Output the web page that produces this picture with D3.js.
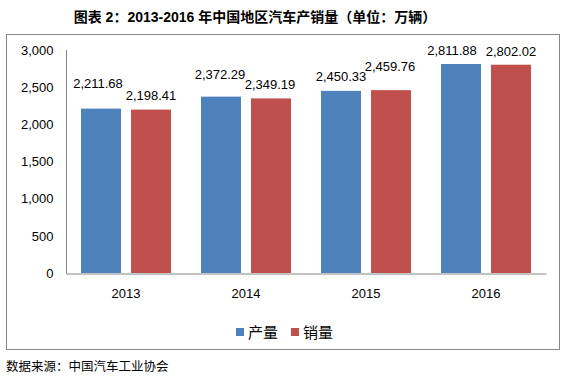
<!DOCTYPE html>
<html><head><meta charset="utf-8">
<script src="https://cdn.jsdelivr.net/npm/d3@7/dist/d3.min.js"></script>
<style>body{margin:0;background:#fff;}svg{display:block;}</style>
</head><body>
<svg id="c" width="569" height="380"></svg>
<script>
const categories = ["2013", "2014", "2015", "2016"];
const seriesNames = ["产量", "销量"];
const production = [2211.68, 2372.29, 2450.33, 2811.88];
const sales = [2198.41, 2349.19, 2459.76, 2802.02];
const yTicks = [0, 500, 1000, 1500, 2000, 2500, 3000];
const colors = ["#4F81BD", "#C0504D"];
// manual label nudges (dx, dy) per series per category, as in the source chart
const labelNudge = [
  [[-3, -21], [-1, -18], [0, -10], [-9, -9]],
  [[0, -10], [-1, -9], [-1, -19], [0, -9]]
];

const svg = d3.select("#c");
const latin = "'Liberation Sans', Arial, sans-serif";
const cjk = "'Liberation Sans', 'Noto Sans CJK SC', sans-serif";

svg.append("text").attr("x", 255).attr("y", 22).attr("text-anchor", "middle")
  .attr("font-family", cjk).attr("font-weight", "bold").attr("font-size", 14).attr("fill", "#000")
  .text("图表 2：2013-2016 年中国地区汽车产销量（单位：万辆）");

svg.append("rect").attr("x", 6.5).attr("y", 34.5).attr("width", 553).attr("height", 315)
  .attr("fill", "#fff").attr("stroke", "#888").attr("stroke-width", 1);

const x0 = d3.scaleBand().domain(categories).range([66, 546]).paddingInner(0).paddingOuter(0);
const x1 = d3.scaleBand().domain(seriesNames).range([15, 105]).paddingInner(0.2);
const y = d3.scaleLinear().domain([0, 3000]).range([273, 50]);

const seriesData = [production, sales];

// bars
seriesData.forEach((vals, si) => {
  svg.append("g").selectAll("rect").data(vals).join("rect")
    .attr("x", (d, i) => x0(categories[i]) + x1(seriesNames[si]))
    .attr("y", d => y(d))
    .attr("width", x1.bandwidth())
    .attr("height", d => y(0) - y(d))
    .attr("fill", colors[si]);
});

// axes
const yAxis = svg.append("g").attr("transform", "translate(66.5,0)")
  .call(d3.axisLeft(y).tickValues(yTicks).tickSize(0).tickPadding(13).tickFormat(d3.format(",")));
yAxis.select(".domain").attr("stroke", "#868686").attr("d", "M0,50V273.5");
yAxis.selectAll("text").attr("font-family", latin).attr("font-size", 13).attr("fill", "#000");

const xAxis = svg.append("g").attr("transform", "translate(0,273.5)")
  .call(d3.axisBottom(x0).tickSize(0).tickPadding(15));
xAxis.select(".domain").attr("stroke", "#868686");
xAxis.selectAll("text").attr("font-family", latin).attr("font-size", 13).attr("fill", "#000");

// labels
const fmt = d3.format(",.2f");
seriesData.forEach((vals, si) => {
  svg.append("g").selectAll("text").data(vals).join("text")
    .attr("x", (d, i) => x0(categories[i]) + x1(seriesNames[si]) + x1.bandwidth() / 2 + labelNudge[si][i][0])
    .attr("y", (d, i) => y(d) + labelNudge[si][i][1])
    .attr("text-anchor", "middle")
    .attr("font-family", latin).attr("font-size", 13).attr("fill", "#000")
    .text(d => fmt(d));
});

// legend
const leg = svg.append("g");
const legX = [236, 291];
seriesNames.forEach((n, i) => {
  leg.append("rect").attr("x", legX[i]).attr("y", 328).attr("width", 8).attr("height", 8).attr("fill", colors[i]);
  leg.append("text").attr("x", legX[i] + 12).attr("y", 338)
    .attr("font-family", "'Noto Sans CJK SC', sans-serif").attr("font-size", 15).attr("fill", "#000").text(n);
});

svg.append("text").attr("x", 6).attr("y", 371)
  .attr("font-family", "'Noto Sans CJK SC', sans-serif").attr("font-size", 12.5).attr("fill", "#000")
  .text("数据来源：中国汽车工业协会");
</script>
</body></html>
